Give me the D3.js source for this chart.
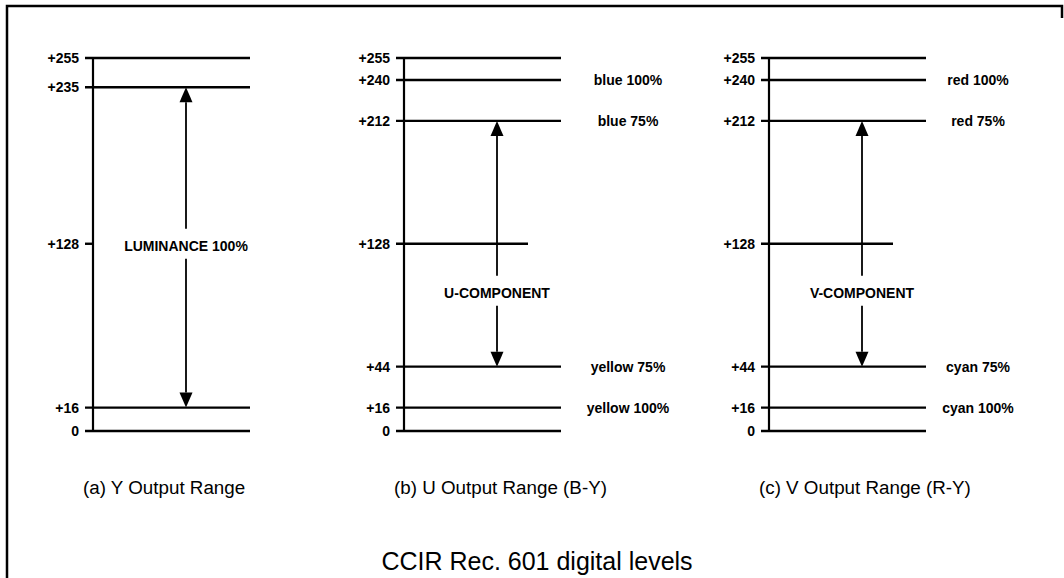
<!DOCTYPE html>
<html>
<head>
<meta charset="utf-8">
<script src="https://cdn.jsdelivr.net/npm/d3@7"></script>
<style>
  body { margin: 0; background: #fff; }
  svg text { font-family: "Liberation Sans", Arial, Helvetica, sans-serif; fill: #000; }
</style>
</head>
<body>
<svg id="chart" width="1064" height="578"></svg>
<script>
// digital levels drawn in each panel
const panelIds = ["a", "b", "c"];
const captions = ["(a) Y Output Range", "(b) U Output Range (B-Y)", "(c) V Output Range (R-Y)"];
const tickLevels = [
    [255, 235, 128, 16, 0],
    [255, 240, 212, 128, 44, 16, 0],
    [255, 240, 212, 128, 44, 16, 0]
];
const fullLevels = [
    [255, 235, 16, 0],
    [255, 240, 212, 44, 16, 0],
    [255, 240, 212, 44, 16, 0]
];
const midLevels = [[], [128], [128]];
const rangeLow = [16, 44, 44];
const rangeHigh = [235, 212, 212];
const rangeLabels = ["LUMINANCE 100%", "U-COMPONENT", "V-COMPONENT"];
const sideLabels = [
    [],
    [{ v: 240, t: "blue 100%" }, { v: 212, t: "blue 75%" }, { v: 44, t: "yellow 75%" }, { v: 16, t: "yellow 100%" }],
    [{ v: 240, t: "red 100%" }, { v: 212, t: "red 75%" }, { v: 44, t: "cyan 75%" }, { v: 16, t: "cyan 100%" }]
];
const title = "CCIR Rec. 601 digital levels";

// layout
const panelX = [85, 396, 761];
const lineWidth = 165;
const sideLabelX = [0, 628, 978];
const rangeLabelShift = [2, 49, 49];

const svg = d3.select("#chart");

// frame (scan only shows left and top edges)
svg.append("path")
    .attr("d", "M7,578V6H1062V18")
    .attr("fill", "none")
    .attr("stroke", "#000")
    .attr("stroke-width", 2.5);

const y = d3.scaleLinear().domain([0, 255]).range([431, 58]);

panelIds.forEach((id, i) => {
    const x0 = panelX[i];
    const x = d3.scaleLinear().domain([0, 1]).range([x0, x0 + lineWidth]);
    const axisX = x0 + 8;
    const arrowX = x0 + 101;
    const g = svg.append("g").attr("class", "panel-" + id);

    // vertical axis
    g.append("line")
        .attr("x1", axisX).attr("x2", axisX)
        .attr("y1", y(255)).attr("y2", y(0))
        .attr("stroke", "#000").attr("stroke-width", 2.2);

    // level lines
    g.selectAll("line.full")
        .data(fullLevels[i])
        .enter()
        .append("line")
        .attr("class", "full")
        .attr("x1", x(0)).attr("x2", x(1))
        .attr("y1", d => y(d)).attr("y2", d => y(d))
        .attr("stroke", "#000").attr("stroke-width", 2.4);

    g.selectAll("line.mid")
        .data(midLevels[i])
        .enter()
        .append("line")
        .attr("class", "mid")
        .attr("x1", x(0)).attr("x2", x0 + 132)
        .attr("y1", d => y(d)).attr("y2", d => y(d))
        .attr("stroke", "#000").attr("stroke-width", 2.4);

    // short tick where no line is drawn
    g.selectAll("line.tick")
        .data(tickLevels[i].filter(v => !fullLevels[i].includes(v) && !midLevels[i].includes(v)))
        .enter()
        .append("line")
        .attr("class", "tick")
        .attr("x1", x(0)).attr("x2", axisX)
        .attr("y1", d => y(d)).attr("y2", d => y(d))
        .attr("stroke", "#000").attr("stroke-width", 2.4);

    // tick labels
    g.selectAll("text.tick")
        .data(tickLevels[i])
        .enter()
        .append("text")
        .attr("class", "tick")
        .attr("x", x0 - 6)
        .attr("y", d => y(d) + 5)
        .attr("text-anchor", "end")
        .attr("font-size", 14)
        .attr("font-weight", "bold")
        .text(d => d == 0 ? "0" : "+" + d);

    // right hand labels
    g.selectAll("text.side")
        .data(sideLabels[i])
        .enter()
        .append("text")
        .attr("class", "side")
        .attr("x", sideLabelX[i])
        .attr("y", d => y(d.v) + 5)
        .attr("text-anchor", "middle")
        .attr("font-size", 14)
        .attr("font-weight", "bold")
        .text(d => d.t);

    // double arrow with label in the gap
    const labelY = y(128) + rangeLabelShift[i];
    const topY = y(rangeHigh[i]);
    const botY = y(rangeLow[i]);
    const head = 15, half = 6.5;

    g.append("line")
        .attr("x1", arrowX).attr("x2", arrowX)
        .attr("y1", topY + head).attr("y2", labelY - 17)
        .attr("stroke", "#000").attr("stroke-width", 1.8);
    g.append("line")
        .attr("x1", arrowX).attr("x2", arrowX)
        .attr("y1", labelY + 13).attr("y2", botY - head)
        .attr("stroke", "#000").attr("stroke-width", 1.8);
    g.append("path")
        .attr("d", `M${arrowX},${topY}L${arrowX - half},${topY + head}L${arrowX + half},${topY + head}Z`)
        .attr("fill", "#000");
    g.append("path")
        .attr("d", `M${arrowX},${botY}L${arrowX - half},${botY - head}L${arrowX + half},${botY - head}Z`)
        .attr("fill", "#000");

    g.append("text")
        .attr("x", arrowX)
        .attr("y", labelY + 5)
        .attr("text-anchor", "middle")
        .attr("font-size", 14)
        .attr("font-weight", "bold")
        .text(rangeLabels[i]);

    // caption
    g.append("text")
        .attr("x", x0 - 2)
        .attr("y", 494)
        .attr("font-size", 18.8)
        .text(captions[i]);
});

svg.append("text")
    .attr("x", 537)
    .attr("y", 570)
    .attr("text-anchor", "middle")
    .attr("font-size", 25)
    .text(title);
</script>
</body>
</html>
